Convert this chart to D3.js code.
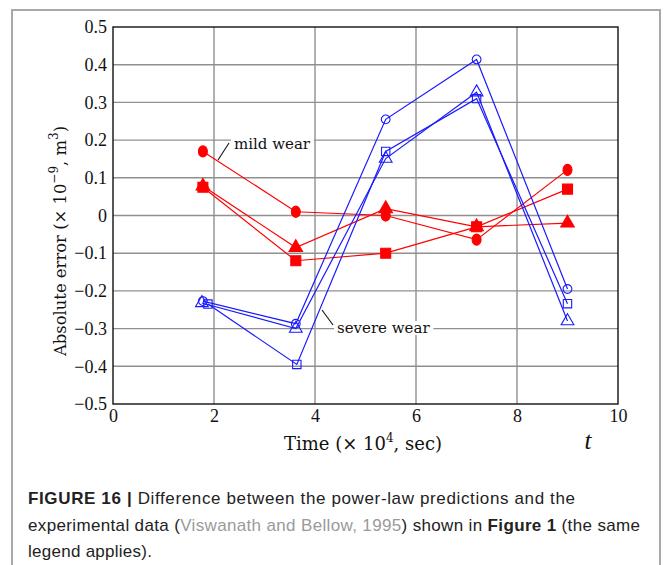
<!DOCTYPE html>
<html><head><meta charset="utf-8">
<script src="https://cdn.jsdelivr.net/npm/d3@7"></script>
<style>
html,body{margin:0;padding:0;background:#fff;}
svg{display:block;}
</style>
</head><body>
<script>
// ---- data ----
const xTicks = [0, 2, 4, 6, 8, 10];
const yTicks = [-0.5, -0.4, -0.3, -0.2, -0.1, 0, 0.1, 0.2, 0.3, 0.4, 0.5];

const mildTimes = [1.78, 3.62, 5.4, 7.2, 9.0];
const mildCircle = [0.17, 0.01, 0.0, -0.064, 0.121];
const mildSquare = [0.075, -0.12, -0.10, -0.03, 0.07];
const mildTriangle = [0.078, -0.085, 0.018, -0.03, -0.02];

const severeCircleTimes = [1.78, 3.62, 5.4, 7.2, 9.0];
const severeSquareTimes = [1.88, 3.64, 5.4, 7.2, 9.0];
const severeTriangleTimes = [1.76, 3.62, 5.4, 7.2, 9.0];
const severeCircle = [-0.227, -0.287, 0.255, 0.414, -0.195];
const severeSquare = [-0.235, -0.395, 0.17, 0.31, -0.234];
const severeTriangle = [-0.232, -0.30, 0.151, 0.327, -0.28];

const captionLines = [
  [{t:"FIGURE 16 | ", b:true}, {t:"Difference between the power-law predictions and the"}],
  [{t:"experimental data ("}, {t:"Viswanath and Bellow, 1995", g:true}, {t:") shown in "}, {t:"Figure 1", b:true}, {t:" (the same"}],
  [{t:"legend applies)."}]
];
const captionWidths = [547, 612, 124];

// ---- drawing ----
const W = 664, H = 565;
const svg = d3.select("body").append("svg").attr("width", W).attr("height", H);

// outer frame
svg.append("rect").attr("x", 12).attr("y", 10).attr("width", 648).attr("height", 570)
  .attr("fill", "#fff").attr("stroke", "#a8a8a8").attr("stroke-width", 2);

const x = d3.scaleLinear().domain([0, 10]).range([113, 618]);
const y = d3.scaleLinear().domain([-0.5, 0.5]).range([404, 27]);

const serif = "'Liberation Serif', 'Times New Roman', serif";
const wideSerif = "'DejaVu Serif', 'Liberation Serif', serif";

// grid
const g = svg.append("g");
g.selectAll(".vg").data(xTicks.slice(1, -1)).enter().append("line")
  .attr("x1", d => x(d)).attr("x2", d => x(d)).attr("y1", y(0.5)).attr("y2", y(-0.5))
  .attr("stroke", "#909090").attr("stroke-width", 1.4);
g.selectAll(".hg").data(yTicks.slice(1, -1)).enter().append("line")
  .attr("x1", x(0)).attr("x2", x(10)).attr("y1", d => y(d)).attr("y2", d => y(d))
  .attr("stroke", "#909090").attr("stroke-width", 1.4);

// frame of plot
svg.append("rect").attr("x", x(0)).attr("y", y(0.5)).attr("width", x(10) - x(0)).attr("height", y(-0.5) - y(0.5))
  .attr("fill", "none").attr("stroke", "#111").attr("stroke-width", 1.4);

// axes ticks labels via d3 axes
const fmtY = d => d === 0 ? "0" : (d < 0 ? "\u2212" + d3.format(".1f")(-d) : d3.format(".1f")(d));
const yAxis = svg.append("g").attr("transform", `translate(${x(0)},0)`)
  .call(d3.axisLeft(y).tickValues(yTicks).tickSize(0).tickPadding(6).tickFormat(fmtY));
yAxis.select(".domain").remove();
yAxis.selectAll("text").attr("font-family", serif).attr("font-size", 18).attr("fill", "#111");

const xAxis = svg.append("g").attr("transform", `translate(0,${y(-0.5)})`)
  .call(d3.axisBottom(x).tickValues(xTicks).tickSize(0).tickPadding(5).tickFormat(d3.format("d")));
xAxis.select(".domain").remove();
xAxis.selectAll("text").attr("font-family", serif).attr("font-size", 18).attr("fill", "#111");

// axis titles
const xt = svg.append("text").attr("x", 363).attr("y", 450).attr("text-anchor", "middle")
  .attr("font-family", wideSerif).attr("font-size", 18).attr("fill", "#111");
xt.append("tspan").text("Time (\u00d7 10");
xt.append("tspan").attr("dy", -8).attr("font-size", 12).text("4");
xt.append("tspan").attr("dy", 8).text(", sec)");

svg.append("text").attr("x", 588).attr("y", 449).attr("text-anchor", "middle")
  .attr("font-family", serif).attr("font-style", "italic").attr("font-size", 25).attr("fill", "#111").text("t");

const yt = svg.append("text").attr("transform", "translate(66,241) rotate(-90)").attr("text-anchor", "middle")
  .attr("font-family", wideSerif).attr("font-size", 16.4).attr("fill", "#111");
yt.append("tspan").text("Absolute error (\u00d7 10");
yt.append("tspan").attr("dy", -8).attr("font-size", 12).text("\u22129");
yt.append("tspan").attr("dy", 8).text(", m");
yt.append("tspan").attr("dy", -8).attr("font-size", 12).text("3");
yt.append("tspan").attr("dy", 8).text(")");

// annotations
function annot(label, tx, ty, lx1, ly1, lx2, ly2) {
  const t = svg.append("text").attr("x", tx).attr("y", ty)
    .attr("font-family", wideSerif).attr("font-size", 15).attr("fill", "#111").text(label);
  const bb = t.node().getBBox();
  svg.insert("rect", () => t.node()).attr("x", bb.x - 3).attr("y", bb.y + 2).attr("width", bb.width + 6).attr("height", bb.height - 4)
    .attr("fill", "#fff");
  svg.append("line").attr("x1", lx1).attr("y1", ly1).attr("x2", lx2).attr("y2", ly2)
    .attr("stroke", "#111").attr("stroke-width", 1.1);
}
annot("mild wear", 234, 149, 229, 143, 218, 160);
annot("severe wear", 337, 333, 333, 325, 322, 310);

// series
const red = "#ff0000", blue = "#1a1aff";
const line = d3.line().x(d => x(d[0])).y(d => y(d[1]));
const series = [
  {t: mildTimes, v: mildCircle, c: red, sym: d3.symbolCircle, fill: true, size: 80},
  {t: mildTimes, v: mildSquare, c: red, sym: d3.symbolSquare, fill: true, size: 100},
  {t: mildTimes, v: mildTriangle, c: red, sym: d3.symbolTriangle, fill: true, size: 80},
  {t: severeCircleTimes, v: severeCircle, c: blue, sym: d3.symbolCircle, fill: false, size: 60},
  {t: severeSquareTimes, v: severeSquare, c: blue, sym: d3.symbolSquare, fill: false, size: 70},
  {t: severeTriangleTimes, v: severeTriangle, c: blue, sym: d3.symbolTriangle, fill: false, size: 70},
];
series.forEach(s => {
  const pts = s.t.map((t, i) => [t, s.v[i]]);
  svg.append("path").datum(pts).attr("d", line).attr("fill", "none").attr("stroke", s.c).attr("stroke-width", 1.2);
});
series.forEach(s => {
  const pts = s.t.map((t, i) => [t, s.v[i]]);
  const sym = d3.symbol().type(s.sym).size(s.size);
  svg.append("g").selectAll("path").data(pts).enter().append("path")
    .attr("d", sym)
    .attr("transform", d => `translate(${x(d[0])},${y(d[1])})${s.sym === d3.symbolCircle && s.fill ? " scale(0.9,1.1)" : ""}`)
    .attr("fill", s.fill ? s.c : "none").attr("stroke", s.c).attr("stroke-width", 1.1);
});

// caption
const sans = "'Liberation Sans', Arial, Helvetica, sans-serif";
captionLines.forEach((ln, i) => {
  const t = svg.append("text").attr("x", 28).attr("y", 504 + i * 26.5)
    .attr("font-family", sans).attr("font-size", 17).attr("fill", "#222")
    .attr("textLength", captionWidths[i]).attr("lengthAdjust", "spacing");
  ln.forEach(p => {
    t.append("tspan").text(p.t)
      .attr("font-weight", p.b ? "bold" : null)
      .attr("fill", p.g ? "#9a9a9a" : null);
  });
});
</script>
</body></html>
